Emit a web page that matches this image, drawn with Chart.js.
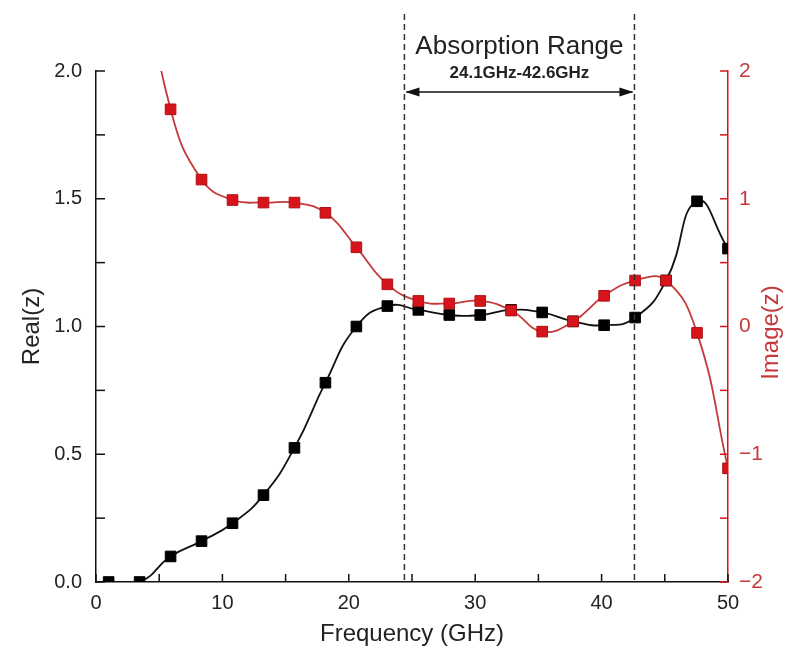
<!DOCTYPE html>
<html>
<head>
<meta charset="utf-8">
<script src="https://cdn.jsdelivr.net/npm/chart.js@4.4.0/dist/chart.umd.min.js"></script>
<style>
  html, body { margin: 0; padding: 0; background: #fff; }
  #wrap { width: 795px; height: 657px; }
</style>
</head>
<body>
<div id="wrap"><canvas id="zchart" width="795" height="657"></canvas></div>
<script>
// frequency points (GHz)
const freq = [1, 3.45, 5.9, 8.35, 10.8, 13.25, 15.7, 18.15, 20.6, 23.05, 25.5, 27.95, 30.4, 32.85, 35.3, 37.75, 40.2, 42.65, 45.1, 47.55, 50];
// real part, left axis
const realZ = [0, 0, 0.10, 0.16, 0.23, 0.34, 0.525, 0.78, 1.0, 1.08, 1.065, 1.045, 1.045, 1.065, 1.055, 1.02, 1.005, 1.035, 1.18, 1.49, 1.305];
// imaginary part, right axis (first point above the range, gets clipped)
const imageZ = [null, 3.0, 1.70, 1.15, 0.99, 0.97, 0.97, 0.89, 0.62, 0.33, 0.20, 0.18, 0.20, 0.125, -0.04, 0.04, 0.24, 0.36, 0.36, -0.05, -1.11];
// absorption band edges (GHz)
const bandEdges = [24.4, 42.6];
const bandTitle = 'Absorption Range';
const bandLabel = '24.1GHz-42.6GHz';

const RED = '#d7141c';
const RED_LINE = '#c43a3c';
const FONT = "'Liberation Sans', Arial, sans-serif";

const toPoints = (ys) => freq.map((f, i) => ({ x: f, y: ys[i] }));

// inward tick marks, like Origin plots
const innerTicks = {
   id: 'innerTicks',
   afterDraw(chart) {
      const ctx = chart.ctx;
      const { x, y, y1 } = chart.scales;
      ctx.save();
      ctx.lineWidth = 1.5;
      ctx.strokeStyle = '#111';
      x.ticks.forEach(t => {
         const px = x.getPixelForValue(t.value);
         ctx.beginPath();
         ctx.moveTo(px, x.top);
         ctx.lineTo(px, x.top - 8);
         ctx.stroke();
      });
      y.ticks.forEach(t => {
         const py = y.getPixelForValue(t.value);
         ctx.beginPath();
         ctx.moveTo(y.right, py);
         ctx.lineTo(y.right + 9, py);
         ctx.stroke();
      });
      ctx.strokeStyle = RED;
      y1.ticks.forEach(t => {
         const py = y1.getPixelForValue(t.value);
         ctx.beginPath();
         ctx.moveTo(y1.left, py);
         ctx.lineTo(y1.left - 8, py);
         ctx.stroke();
      });
      ctx.restore();
   }
};

// dashed band lines, arrow and labels
const bandMarks = {
   id: 'bandMarks',
   afterDatasetsDraw(chart) {
      const ctx = chart.ctx;
      const x = chart.scales.x;
      const area = chart.chartArea;
      const x0 = x.getPixelForValue(bandEdges[0]);
      const x1 = x.getPixelForValue(bandEdges[1]);
      ctx.save();
      ctx.strokeStyle = '#333';
      ctx.lineWidth = 1.5;
      ctx.setLineDash([6, 4]);
      [x0, x1].forEach(px => {
         ctx.beginPath();
         ctx.moveTo(px, 14);
         ctx.lineTo(px, area.bottom);
         ctx.stroke();
      });
      ctx.setLineDash([]);

      // double arrow
      const ay = area.top + 21;
      ctx.strokeStyle = '#111';
      ctx.fillStyle = '#111';
      ctx.lineWidth = 1.3;
      ctx.beginPath();
      ctx.moveTo(x0 + 2, ay);
      ctx.lineTo(x1 - 2, ay);
      ctx.stroke();
      ctx.beginPath();
      ctx.moveTo(x0 + 1, ay);
      ctx.lineTo(x0 + 15, ay - 4.5);
      ctx.lineTo(x0 + 15, ay + 4.5);
      ctx.closePath();
      ctx.fill();
      ctx.beginPath();
      ctx.moveTo(x1 - 1, ay);
      ctx.lineTo(x1 - 15, ay - 4.5);
      ctx.lineTo(x1 - 15, ay + 4.5);
      ctx.closePath();
      ctx.fill();

      const cx = (x0 + x1) / 2;
      ctx.textAlign = 'center';
      ctx.textBaseline = 'middle';
      ctx.fillStyle = '#222';
      ctx.font = '26px ' + FONT;
      ctx.fillText(bandTitle, cx, 47);
      ctx.font = 'bold 17px ' + FONT;
      ctx.fillText(bandLabel, cx, 73);

      // right axis title, read bottom to top
      ctx.translate(771, (area.top + area.bottom) / 2 + 6);
      ctx.rotate(-Math.PI / 2);
      ctx.fillStyle = RED_LINE;
      ctx.font = '24px ' + FONT;
      ctx.fillText('Image(z)', 0, 0);
      ctx.restore();
   }
};

new Chart(document.getElementById('zchart'), {
   type: 'line',
   data: {
      datasets: [
         {
            label: 'Image(z)',
            data: toPoints(imageZ),
            yAxisID: 'y1',
            borderColor: RED_LINE,
            borderWidth: 1.8,
            tension: 0.45,
            pointStyle: 'rect',
            pointRadius: 7.5,
            pointBackgroundColor: RED,
            pointBorderColor: '#b01015',
            pointBorderWidth: 1
         },
         {
            label: 'Real(z)',
            data: toPoints(realZ),
            yAxisID: 'y',
            borderColor: '#111',
            borderWidth: 1.8,
            tension: 0.5,
            pointStyle: 'rect',
            pointRadius: 7.5,
            pointBackgroundColor: '#000',
            pointBorderColor: '#000',
            pointBorderWidth: 1
         }
      ]
   },
   options: {
      responsive: false,
      animation: false,
      layout: { padding: { top: 71, left: 0, right: 0, bottom: 0 } },
      plugins: {
         legend: { display: false },
         tooltip: { enabled: false }
      },
      scales: {
         x: {
            type: 'linear',
            min: 0,
            max: 50,
            grid: { display: false, drawTicks: false },
            border: { display: true, color: '#111', width: 1.5 },
            ticks: {
               stepSize: 5,
               padding: 9,
               color: '#222',
               font: { family: FONT, size: 20 },
               callback: v => (v % 10 === 0 ? String(v) : '')
            },
            title: {
               display: true,
               text: 'Frequency (GHz)',
               color: '#222',
               font: { family: FONT, size: 24 },
               padding: { top: 0, bottom: 8 }
            },
            afterFit: s => { s.height = 75; }
         },
         y: {
            position: 'left',
            min: 0,
            max: 2,
            grid: { display: false, drawTicks: false },
            border: { display: true, color: '#111', width: 1.5 },
            ticks: {
               stepSize: 0.25,
               padding: 14,
               color: '#222',
               font: { family: FONT, size: 20 },
               callback: v => (Math.abs(v * 2 - Math.round(v * 2)) < 1e-6 ? v.toFixed(1) : '')
            },
            title: {
               display: true,
               text: 'Real(z)',
               color: '#222',
               font: { family: FONT, size: 24 },
               padding: { top: 18, bottom: 18 }
            },
            afterFit: s => { s.width = 96; }
         },
         y1: {
            position: 'right',
            min: -2,
            max: 2,
            grid: { display: false, drawTicks: false },
            border: { display: true, color: RED, width: 1.5 },
            ticks: {
               stepSize: 0.5,
               padding: 11,
               color: RED_LINE,
               font: { family: FONT, size: 21 },
               callback: v => (Number.isInteger(v) ? String(v).replace('-', '\u2212') : '')
            },
            afterFit: s => { s.width = 67; }
         }
      }
   },
   plugins: [innerTicks, bandMarks]
});
</script>
</body>
</html>
